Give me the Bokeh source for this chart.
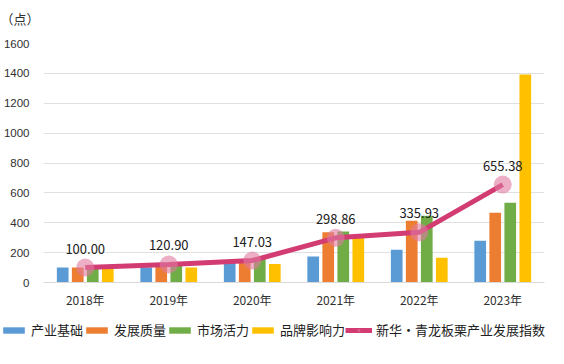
from bokeh.plotting import figure
from bokeh.layouts import column
from bokeh.models import (ColumnDataSource, FactorRange, Range1d, Legend, LegendItem,
                          LabelSet, Label, FixedTicker)
from bokeh.core.properties import value
from bokeh.transform import dodge
from bokeh.embed import file_html
from bokeh.resources import INLINE

years = ["2018年", "2019年", "2020年", "2021年", "2022年", "2023年"]
base = [100, 100, 130, 174, 220, 280]          # 产业基础
quality = [100, 110, 136, 336, 414, 467]       # 发展质量
vitality = [96, 124, 159, 341, 447, 534]       # 市场活力
brand = [96, 100, 124, 302, 166, 1392]         # 品牌影响力
index = [100.00, 120.90, 147.03, 298.86, 335.93, 655.38]  # 新华·青龙板栗产业发展指数
y_ticks = [0, 200, 400, 600, 800, 1000, 1200, 1400, 1600]
unit_text = "（点）"

src = ColumnDataSource(dict(
    years=years, base=base, quality=quality, vitality=vitality, brand=brand,
    index=index, index_label=["%.2f" % v for v in index],
))

CJK = "Noto Sans CJK SC"
W = 548

def blank(height):
    f = figure(width=W, height=height, output_backend="svg", toolbar_location=None,
               x_range=Range1d(0, W), y_range=Range1d(0, height),
               x_axis_location=None, y_axis_location=None,
               min_border=0, min_border_left=0, min_border_right=0,
               min_border_top=0, min_border_bottom=0)
    f.grid.visible = False
    f.outline_line_color = None
    return f

# --- top strip with the unit text
top = blank(36)
top.add_layout(Label(x=0, y=18, text=unit_text, text_font=CJK, text_font_size="13px",
                     text_color="#303030", text_baseline="middle"))

# --- main chart
p = figure(width=W, height=276, output_backend="svg", toolbar_location=None,
           x_range=FactorRange(*years, range_padding=0, factor_padding=0),
           y_range=Range1d(0, 1600),
           min_border_left=34, min_border_right=4, min_border_top=7, min_border_bottom=30)
p.outline_line_color = None

colors = ["#5B9BD5", "#ED7D31", "#70AD47", "#FFC000"]
fields = ["base", "quality", "vitality", "brand"]
names = ["产业基础", "发展质量", "市场活力", "品牌影响力"]
offsets = [-0.27, -0.09, 0.09, 0.27]
for f, c, o in zip(fields, colors, offsets):
    p.vbar(x=dodge("years", o, range=p.x_range), top=f, width=0.14, bottom=0,
           source=src, fill_color=c, line_color=None)

LINE_C = "#D23C73"
DOT_C = "#E07AA0"
p.line(x="years", y="index", source=src, line_color=LINE_C, line_width=5)
p.scatter(x="years", y="index", source=src, size=18, marker="circle",
          fill_color=DOT_C, fill_alpha=0.6, line_color=None)

p.add_layout(LabelSet(x="years", y="index", text="index_label", source=src,
                      text_align="center", text_baseline="middle", y_offset=19,
                      text_font=value(CJK), text_font_size="13px", text_color="#202020"))

p.yaxis.ticker = FixedTicker(ticks=y_ticks)
p.yaxis.axis_line_color = None
p.yaxis.major_tick_line_color = None
p.yaxis.minor_tick_line_color = None
p.yaxis.major_label_standoff = 8
p.yaxis.major_label_text_font = "Liberation Sans"
p.yaxis.major_label_text_font_size = "11.5px"
p.yaxis.major_label_text_color = "#303030"

p.xaxis.axis_line_color = "#D9D9D9"
p.xaxis.major_tick_line_color = None
p.xaxis.minor_tick_line_color = None
p.xaxis.major_label_standoff = 2
p.xaxis.major_label_text_font = CJK
p.xaxis.major_label_text_font_size = "12px"
p.xaxis.major_label_text_color = "#303030"

p.xgrid.grid_line_color = None
p.ygrid.grid_line_color = "#E0E0E0"
p.ygrid.ticker = FixedTicker(ticks=y_ticks)

# --- legend strip (proxy renderers, drawn off-screen, carrying the same styles)
leg = blank(44)
proxy = ColumnDataSource(dict(x=[-100, -90], y=[-100, -100]))
items = []
for n, c in zip(names, colors):
    r = leg.vbar(x="x", top="y", width=1, source=proxy, fill_color=c, line_color=None)
    items.append(LegendItem(label=n, renderers=[r]))
lr = leg.line(x="x", y="y", source=proxy, line_color=LINE_C, line_width=5)
sr = leg.scatter(x="x", y="y", source=proxy, size=18, marker="circle",
                 fill_color=DOT_C, fill_alpha=0.6, line_color=None)
items.append(LegendItem(label="新华・青龙板栗产业发展指数", renderers=[lr, sr]))
legend = Legend(items=items, orientation="horizontal", location=(0, 17),
                glyph_width=27, glyph_height=8, label_standoff=4, spacing=0,
                padding=0, margin=0, label_height=18,
                border_line_color=None, background_fill_alpha=0,
                label_text_font=CJK, label_text_font_size="13px", label_text_color="#202020")
leg.add_layout(legend, "center")

# keep each strip's frame independent (no frame alignment across the column)
for fig in (top, p, leg):
    try:
        fig.frame_align = False
    except Exception:
        pass

layout = column(top, p, leg, spacing=0)
open("out.html", "w").write(file_html(layout, INLINE))
